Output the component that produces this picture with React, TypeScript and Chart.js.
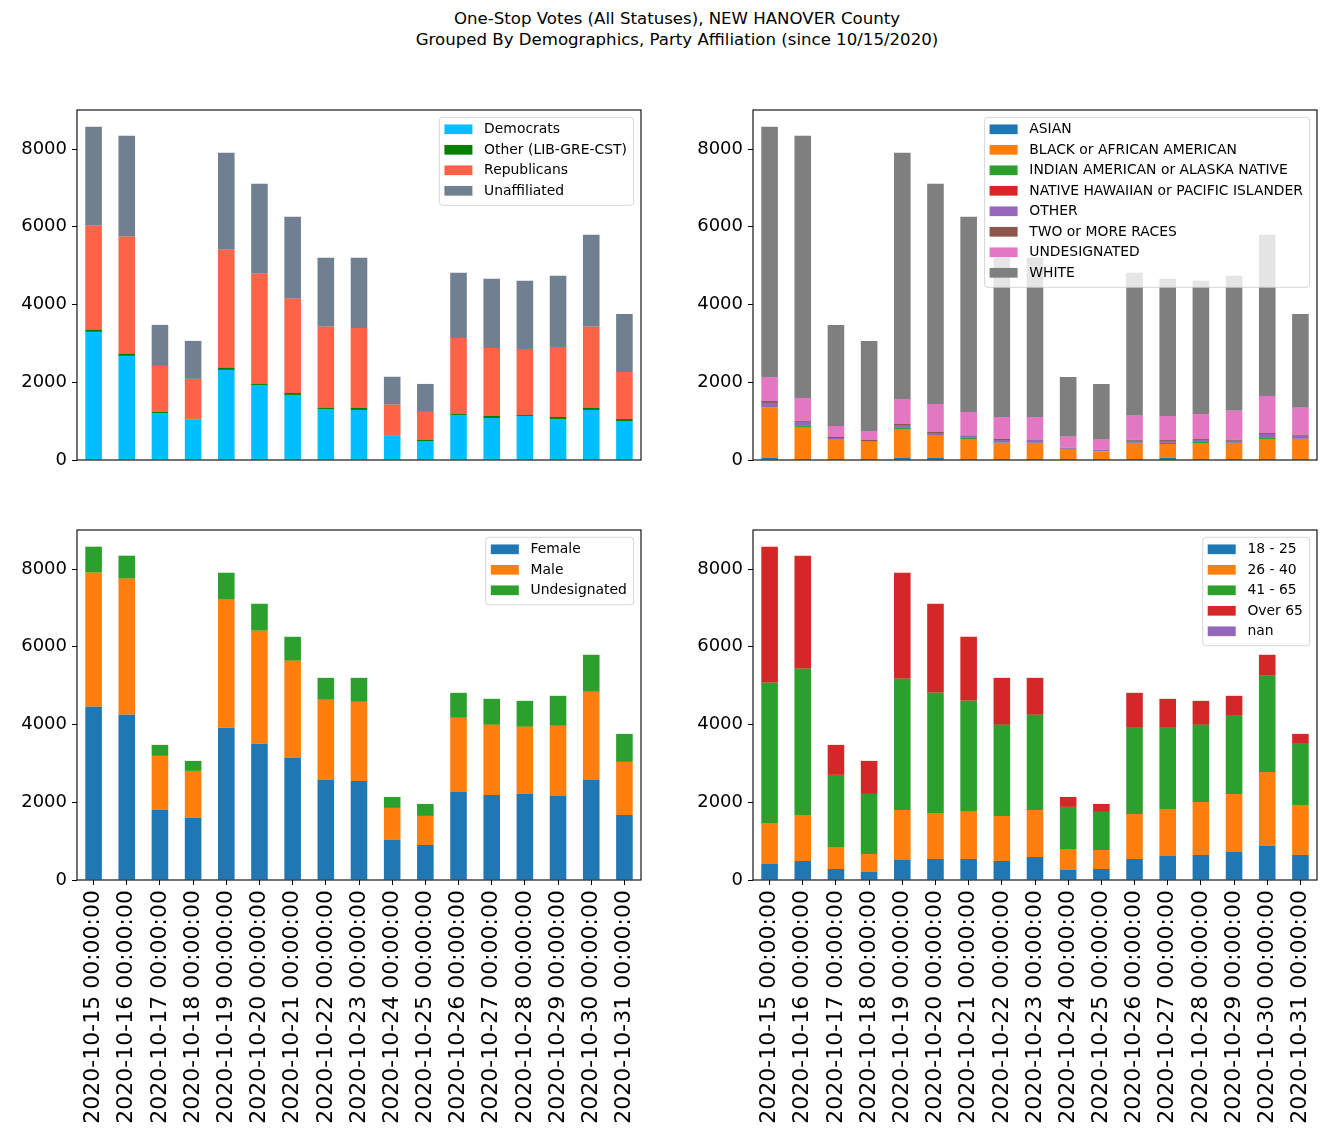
import React, { useEffect, useRef } from "react";
import { Chart, registerables } from "chart.js";
Chart.register(...registerables);

const FONT = "'DejaVu Sans', sans-serif";

const dates = [
  "2020-10-15 00:00:00", "2020-10-16 00:00:00", "2020-10-17 00:00:00", "2020-10-18 00:00:00",
  "2020-10-19 00:00:00", "2020-10-20 00:00:00", "2020-10-21 00:00:00", "2020-10-22 00:00:00",
  "2020-10-23 00:00:00", "2020-10-24 00:00:00", "2020-10-25 00:00:00", "2020-10-26 00:00:00",
  "2020-10-27 00:00:00", "2020-10-28 00:00:00", "2020-10-29 00:00:00", "2020-10-30 00:00:00",
  "2020-10-31 00:00:00",
];

// Party affiliation
const democrats = [3296, 2678, 1210, 1050, 2317, 1931, 1674, 1313, 1287, 618, 489, 1159, 1081, 1133, 1056, 1287, 1004];
const otherParty = [51, 51, 26, 8, 52, 26, 51, 26, 52, 5, 26, 25, 52, 26, 51, 52, 52];
const republicans = [2678, 3013, 1184, 1028, 3038, 2832, 2421, 2086, 2060, 798, 721, 1957, 1751, 1699, 1803, 2086, 1210];
const unaffiliated = [2550, 2601, 1056, 978, 2498, 2318, 2111, 1776, 1802, 721, 721, 1674, 1777, 1751, 1828, 2369, 1493];

// Race
const asian = [52, 26, 26, 26, 52, 52, 26, 26, 26, 26, 26, 26, 60, 26, 26, 26, 26];
const black = [1287, 824, 489, 437, 746, 566, 515, 412, 412, 257, 189, 412, 352, 412, 412, 515, 515];
const indianAm = [8, 25, 5, 5, 26, 5, 25, 5, 3, 3, 2, 3, 26, 25, 3, 25, 3];
const nativeHaw = [3, 2, 1, 1, 2, 2, 2, 2, 1, 1, 1, 1, 1, 1, 1, 1, 1];
const otherRace = [118, 103, 45, 20, 75, 70, 66, 70, 77, 30, 51, 51, 51, 52, 51, 103, 77];
const twoOrMore = [51, 26, 26, 26, 26, 26, 12, 26, 10, 5, 3, 26, 26, 26, 26, 26, 26];
const undesRace = [618, 592, 283, 232, 644, 721, 592, 566, 578, 274, 249, 618, 618, 643, 747, 953, 695];
const white = [6438, 6745, 2601, 2317, 6334, 5665, 5019, 4094, 4094, 1541, 1436, 3678, 3527, 3424, 3472, 4145, 2416];

// Gender
const female = [4455, 4249, 1802, 1596, 3914, 3502, 3141, 2575, 2549, 1030, 901, 2266, 2189, 2214, 2163, 2575, 1674];
const male = [3450, 3501, 1391, 1211, 3296, 2910, 2498, 2060, 2034, 824, 747, 1905, 1802, 1726, 1802, 2266, 1364];
const undesGender = [670, 593, 283, 257, 695, 695, 618, 566, 618, 283, 309, 644, 670, 669, 773, 953, 721];

// Age
const age18to25 = [412, 489, 283, 206, 515, 541, 541, 489, 592, 257, 283, 541, 618, 644, 721, 875, 644];
const age26to40 = [1056, 1185, 567, 463, 1287, 1184, 1236, 1159, 1210, 541, 489, 1158, 1210, 1364, 1493, 1906, 1287];
const age41to65 = [3605, 3759, 1854, 1545, 3374, 3090, 2832, 2343, 2447, 1082, 979, 2215, 2086, 1983, 2009, 2472, 1571];
const ageOver65 = [3502, 2910, 772, 850, 2729, 2292, 1648, 1210, 952, 257, 206, 901, 747, 618, 515, 541, 257];
const ageNan = [0, 0, 0, 0, 0, 0, 0, 0, 0, 0, 0, 0, 0, 0, 0, 0, 0];

const yTicks = [0, 2000, 4000, 6000, 8000];
const Y_MAX = 9004;

type Series = { label: string; data: number[]; color: string };

const partySeries: Series[] = [
  { label: "Democrats", data: democrats, color: "#00BFFF" },
  { label: "Other (LIB-GRE-CST)", data: otherParty, color: "#008000" },
  { label: "Republicans", data: republicans, color: "#FF6347" },
  { label: "Unaffiliated", data: unaffiliated, color: "#708090" },
];
const raceSeries: Series[] = [
  { label: "ASIAN", data: asian, color: "#1f77b4" },
  { label: "BLACK or AFRICAN AMERICAN", data: black, color: "#ff7f0e" },
  { label: "INDIAN AMERICAN or ALASKA NATIVE", data: indianAm, color: "#2ca02c" },
  { label: "NATIVE HAWAIIAN or PACIFIC ISLANDER", data: nativeHaw, color: "#d62728" },
  { label: "OTHER", data: otherRace, color: "#9467bd" },
  { label: "TWO or MORE RACES", data: twoOrMore, color: "#8c564b" },
  { label: "UNDESIGNATED", data: undesRace, color: "#e377c2" },
  { label: "WHITE", data: white, color: "#7f7f7f" },
];
const genderSeries: Series[] = [
  { label: "Female", data: female, color: "#1f77b4" },
  { label: "Male", data: male, color: "#ff7f0e" },
  { label: "Undesignated", data: undesGender, color: "#2ca02c" },
];
const ageSeries: Series[] = [
  { label: "18 - 25", data: age18to25, color: "#1f77b4" },
  { label: "26 - 40", data: age26to40, color: "#ff7f0e" },
  { label: "41 - 65", data: age41to65, color: "#2ca02c" },
  { label: "Over 65", data: ageOver65, color: "#d62728" },
  { label: "nan", data: ageNan, color: "#9467bd" },
];

function makePlugin(series: Series[]) {
  return {
    id: "mplDecor",
    afterDatasetsDraw(chart: any) {
      const ctx = chart.ctx;
      const ca = chart.chartArea;
      const fs = 13.9;
      ctx.save();
      ctx.font = `${fs}px ${FONT}`;
      let maxW = 0;
      series.forEach((s) => {
        maxW = Math.max(maxW, ctx.measureText(s.label).width);
      });
      const n = series.length;
      const w = 5 + 28 + 11.7 + maxW + 6.7;
      const h = 20.5 * n + 6;
      const right = ca.right - 7.4;
      const left = right - w;
      const top = ca.top + 7.3;
      const r = 3;
      ctx.beginPath();
      ctx.moveTo(left + r, top);
      ctx.lineTo(right - r, top);
      ctx.arcTo(right, top, right, top + r, r);
      ctx.lineTo(right, top + h - r);
      ctx.arcTo(right, top + h, right - r, top + h, r);
      ctx.lineTo(left + r, top + h);
      ctx.arcTo(left, top + h, left, top + h - r, r);
      ctx.lineTo(left, top + r);
      ctx.arcTo(left, top, left + r, top, r);
      ctx.closePath();
      ctx.fillStyle = "rgba(255,255,255,0.8)";
      ctx.fill();
      ctx.strokeStyle = "rgba(204,204,204,0.8)";
      ctx.lineWidth = 1;
      ctx.stroke();
      ctx.textBaseline = "middle";
      ctx.textAlign = "left";
      series.forEach((s, i) => {
        const cy = top + 12 + 20.5 * i;
        ctx.fillStyle = s.color;
        ctx.fillRect(left + 5, cy - 4.85, 28, 9.7);
        ctx.fillStyle = "#000";
        ctx.fillText(s.label, left + 5 + 28 + 11.7, cy + 0.5);
      });
      ctx.restore();
    },
    afterDraw(chart: any) {
      const ctx = chart.ctx;
      const ca = chart.chartArea;
      ctx.save();
      ctx.strokeStyle = "#000";
      ctx.lineWidth = 1.1;
      ctx.strokeRect(ca.left, ca.top, ca.right - ca.left, ca.bottom - ca.top);
      ctx.restore();
    },
  };
}

function Panel(props: { series: Series[]; showX: boolean; left: number; top: number }) {
  const ref = useRef<HTMLCanvasElement | null>(null);
  const { series, showX, left, top } = props;
  const width = 647;
  const height = showX ? 627 : 390;
  useEffect(() => {
    if (!ref.current) return;
    const chart = new Chart(ref.current, {
      type: "bar",
      data: {
        labels: dates,
        datasets: series.map((s) => ({
          label: s.label,
          data: s.data,
          backgroundColor: s.color,
          borderWidth: 0,
          barPercentage: 0.5,
          categoryPercentage: 1.0,
        })),
      },
      options: {
        animation: false,
        responsive: false,
        maintainAspectRatio: false,
        devicePixelRatio: 1,
        layout: { padding: { top: 20, bottom: showX ? 0 : 20, left: 0, right: 6 } },
        plugins: {
          legend: { display: false },
          tooltip: { enabled: false },
          title: { display: false },
        },
        scales: {
          x: {
            stacked: true,
            display: showX,
            offset: true,
            grid: {
              display: true,
              drawOnChartArea: false,
              drawTicks: true,
              tickLength: 5,
              color: "#000",
              lineWidth: 1,
              offset: false,
            },
            border: { display: false },
            ticks: {
              autoSkip: false,
              maxRotation: 90,
              minRotation: 90,
              padding: 5,
              color: "#000",
              font: { family: FONT, size: 22 },
            },
            afterFit: (s: any) => {
              s.height = showX ? 257 : 0;
              s.paddingLeft = 0;
              s.paddingRight = 0;
            },
          },
          y: {
            stacked: true,
            min: 0,
            max: Y_MAX,
            afterBuildTicks: (s: any) => {
              s.ticks = yTicks.map((v) => ({ value: v }));
            },
            grid: {
              display: true,
              drawOnChartArea: false,
              drawTicks: true,
              tickLength: 5,
              color: "#000",
              lineWidth: 1,
            },
            border: { display: false },
            ticks: {
              stepSize: 2000,
              includeBounds: false,
              padding: 5,
              color: "#000",
              font: { family: FONT, size: 18 },
              callback: (v: any) => String(v),
            },
            afterFit: (s: any) => {
              s.width = 77;
            },
          },
        },
      } as any,
      plugins: [makePlugin(series)],
    });
    return () => chart.destroy();
  }, []);
  return (
    <canvas
      ref={ref}
      width={width}
      height={height}
      style={{ position: "absolute", left, top, width, height }}
    />
  );
}

export default function App() {
  const titleStyle: React.CSSProperties = {
    position: "absolute",
    left: 377,
    width: 600,
    textAlign: "center",
    fontFamily: FONT,
    fontSize: 16.6,
    lineHeight: "21px",
    color: "#000",
    whiteSpace: "nowrap",
  };
  return (
    <div
      style={{
        position: "absolute",
        left: 0,
        top: 0,
        width: 1326,
        height: 1137,
        overflow: "hidden",
        background: "#fff",
      }}
    >
      <div style={{ ...titleStyle, top: 7.5 }}>One-Stop Votes (All Statuses), NEW HANOVER County</div>
      <div style={{ ...titleStyle, top: 28.5 }}>Grouped By Demographics, Party Affiliation (since 10/15/2020)</div>
      <Panel series={partySeries} showX={false} left={0} top={90} />
      <Panel series={raceSeries} showX={false} left={676} top={90} />
      <Panel series={genderSeries} showX={true} left={0} top={510} />
      <Panel series={ageSeries} showX={true} left={676} top={510} />
    </div>
  );
}
